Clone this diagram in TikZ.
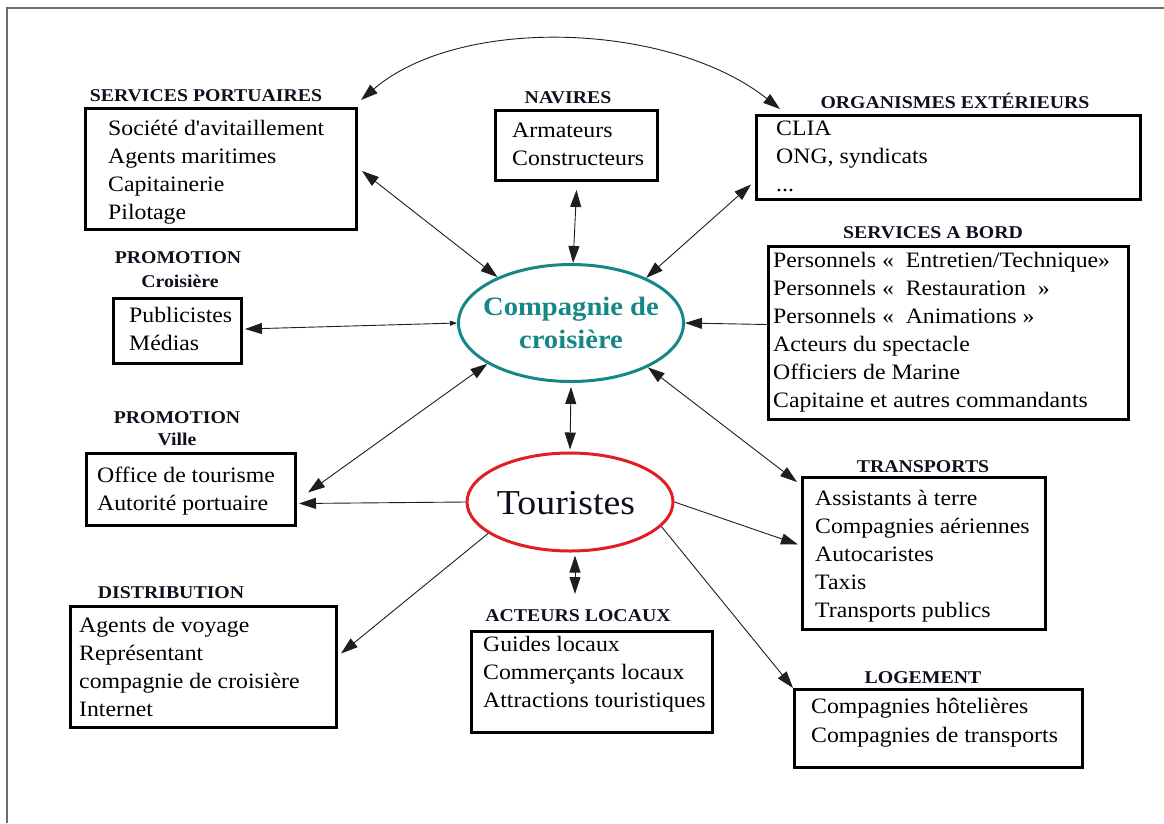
\documentclass[tikz,border=0pt]{standalone}
\usepackage{fontspec}
\setmainfont{Liberation Serif}
\newfontfamily\bodyf[FakeStretch=1.08]{Liberation Serif}
\newfontfamily\titlef[FakeStretch=1.1]{Liberation Serif}
\usetikzlibrary{arrows.meta,shapes.geometric}
\definecolor{tealc}{RGB}{22,135,135}
\definecolor{redc}{RGB}{225,30,35}
\definecolor{titlec}{RGB}{15,15,30}
\definecolor{framec}{RGB}{110,110,110}
\definecolor{linec}{RGB}{30,30,30}
\newcommand{\itemlines}[1]{\begin{tabular}[t]{@{}l@{}}#1\end{tabular}}
\newcommand{\centerlines}[1]{\begin{tabular}[t]{@{}c@{}}#1\end{tabular}}
\begin{document}
\begin{tikzpicture}[x=1pt,y=-1pt,
  box/.style={draw=black, line width=3pt, rectangle, anchor=north west, inner sep=0pt},
  items/.style={anchor=base west, inner sep=0pt, font=\bodyf\fontsize{22}{28}\selectfont},
  ttl/.style={anchor=base, inner sep=0pt, text=titlec, font=\titlef\bfseries\fontsize{18}{20}\selectfont},
  conn/.style={draw=linec, line width=0.9pt, >={Triangle[length=17pt,width=11pt]}},
  oval/.style={ellipse, line width=3pt, inner sep=0pt}]
\useasboundingbox (0,0) rectangle (1164,823);
\draw[framec, line width=1.5pt] (7,823) -- (7,8) -- (1164,8);

% boxes
\node[box, minimum width=271, minimum height=121] (sp) at (84,107) {};
\node[box, minimum width=162, minimum height=70] (nav) at (494,109) {};
\node[box, minimum width=384, minimum height=84] (org) at (755,114) {};
\node[box, minimum width=360, minimum height=173] (sab) at (767,245) {};
\node[box, minimum width=128, minimum height=65] (pcr) at (112,297) {};
\node[box, minimum width=209, minimum height=72] (pvi) at (85,452) {};
\node[box, minimum width=266, minimum height=121] (dis) at (69,605) {};
\node[box, minimum width=241, minimum height=101] (act) at (470,630) {};
\node[box, minimum width=243, minimum height=152] (tra) at (801,476) {};
\node[box, minimum width=288, minimum height=78] (log) at (793,688) {};

% ellipses
\node[oval, draw=tealc, minimum width=225, minimum height=117] (comp) at (571,323) {};
\node[oval, draw=redc, minimum width=206, minimum height=98] (tour) at (570,502) {};
\node[anchor=base, inner sep=0pt, text=tealc, font=\bodyf\bfseries\fontsize{26.5}{33}\selectfont] (compt) at (571,315) {\centerlines{Compagnie de\\croisière}};
\node[anchor=base, inner sep=0pt, text=titlec, font=\bodyf\fontsize{35}{40}\selectfont] (tourt) at (566,514) {Touristes};

% titles
\node[ttl] (spt) at (206,101) {SERVICES PORTUAIRES};
\node[ttl] (navt) at (568,103) {NAVIRES};
\node[ttl] (orgt) at (955,108) {ORGANISMES EXTÉRIEURS};
\node[ttl] (sabt) at (933,238) {SERVICES A BORD};
\node[ttl] (pcrt) at (178,263) {PROMOTION};
\node[ttl] (pcrt2) at (180,287) {Croisière};
\node[ttl] (pvit) at (177,423) {PROMOTION};
\node[ttl] (pvit2) at (177,445) {Ville};
\node[ttl] (dist) at (171,598) {DISTRIBUTION};
\node[ttl] (actt) at (578,621) {ACTEURS LOCAUX};
\node[ttl] (trat) at (923,472) {TRANSPORTS};
\node[ttl] (logt) at (923,683) {LOGEMENT};

% item texts
\node[items] (spi) at (108,135) {\itemlines{Société d'avitaillement\\Agents maritimes\\Capitainerie\\Pilotage}};
\node[items] (navi) at (512,137) {\itemlines{Armateurs\\Constructeurs}};
\node[items] (orgi) at (776,135) {\itemlines{CLIA\\ONG, syndicats\\...}};
\node[items] (sabi) at (773,267) {\itemlines{Personnels «\ \ Entretien/Technique»\\Personnels «\ \ Restauration\ \ »\\Personnels «\ \ Animations »\\Acteurs du spectacle\\Officiers de Marine\\Capitaine et autres commandants}};
\node[items] (pcri) at (129,322) {\itemlines{Publicistes\\Médias}};
\node[items] (pvii) at (97,482) {\itemlines{Office de tourisme\\Autorité portuaire}};
\node[items] (disi) at (79,632) {\itemlines{Agents de voyage\\Représentant\\compagnie de croisière\\Internet}};
\node[items] (acti) at (483,651) {\itemlines{Guides locaux\\Commerçants locaux\\Attractions touristiques}};
\node[items] (trai) at (815,505) {\itemlines{Assistants à terre\\Compagnies aériennes\\Autocaristes\\Taxis\\Transports publics}};
\node[items, font=\bodyf\fontsize{22}{29}\selectfont] (logi) at (811,713) {\itemlines{Compagnies hôtelières\\Compagnies de transports}};

\coordinate (actin) at (575,594);

% connectors
\draw[conn, <->] ([xshift=3pt,yshift=7pt]sp.north east) .. controls (460,15) and (670,22) .. ([xshift=25pt,yshift=5pt]org.north west);
\draw[conn, <->] ([xshift=4pt,yshift=-2pt]sp.east) -- (comp.148);
\draw[conn, <->] ([yshift=-8pt]nav.south) -- (comp.88);
\draw[conn, <->] ([xshift=-4pt,yshift=-27pt]org.west) -- (comp.31);
\draw[conn, {Triangle[length=17pt,width=11pt]}-{Triangle[length=7pt,width=5pt]}] ([xshift=2pt,yshift=2pt]pcr.east) -- (comp.west);
\draw[conn, ->] ([yshift=8.5pt]sab.west) -- (comp.east);
\draw[conn, <->] (comp.206) -- ([xshift=11pt,yshift=-3pt]pvi.east);
\draw[conn, ->] (tour.west) -- ([xshift=2pt,yshift=-14pt]pvi.east);
\draw[conn, <->] ([yshift=-4pt]comp.south) -- ([yshift=2pt]tour.north);
\draw[conn, <->] (comp.330) -- ([xshift=-4pt,yshift=-6pt]tra.north west);
\draw[conn, ->] (tour.east) -- ([xshift=-3pt,yshift=9pt]tra.west);
\draw[conn, ->] (tour.201) -- ([xshift=3pt,yshift=13.5pt]dis.east);
\draw[conn, <->] ([xshift=5pt,yshift=-3pt]tour.south) -- (actin);
\draw[conn, ->] (tour.345) -- (log.north west);
\end{tikzpicture}
\end{document}
